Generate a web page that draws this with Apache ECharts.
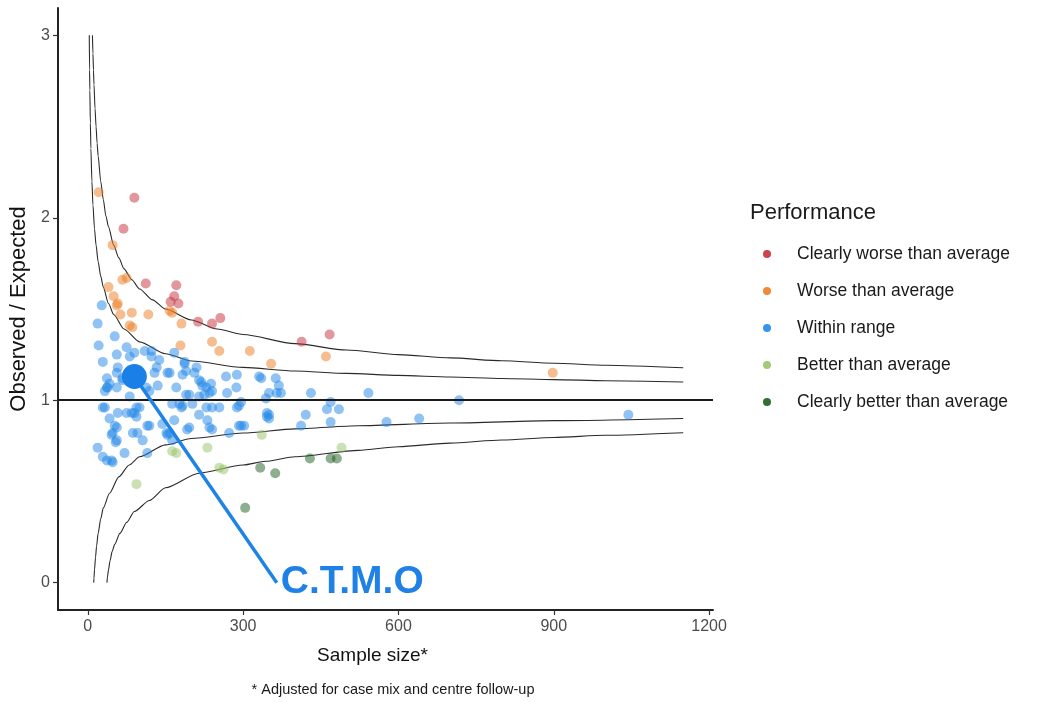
<!DOCTYPE html>
<html>
<head>
<meta charset="utf-8">
<script src="https://cdn.jsdelivr.net/npm/echarts@6/dist/echarts.min.js"></script>
<style>
    html, body { margin: 0; padding: 0; background: #fff; }
    #chart { width: 1046px; height: 702px; }
</style>
</head>
<body>
<div id="chart"></div>
<script>
// tick labels
const xTicks = [0, 300, 600, 900, 1200];
const yTicks = [0, 1, 2, 3];

// legend categories
const categories = ['Clearly worse than average', 'Worse than average', 'Within range', 'Better than average', 'Clearly better than average'];

// centres, [sample size, observed / expected]
const clearlyWorse = [
    [90, 2.11], [69, 1.94], [112, 1.64], [171, 1.63], [167, 1.57], [160, 1.54], [175, 1.53],
    [213, 1.43], [240, 1.42], [256, 1.45], [413, 1.32], [467, 1.36]
];
const worse = [
    [21, 2.14], [48, 1.85], [67, 1.66], [75, 1.67], [40, 1.62], [50, 1.57], [58, 1.53], [63, 1.47],
    [85, 1.48], [117, 1.47], [158, 1.49], [163, 1.48], [81, 1.41], [181, 1.42], [179, 1.30], [240, 1.32],
    [254, 1.27], [313, 1.27], [354, 1.20], [460, 1.24], [898, 1.15], [56, 1.52], [86, 1.40]
];
const withinRange = [
    [27, 1.52], [19, 1.42], [52, 1.35], [21, 1.30], [29, 1.21], [75, 1.29], [81, 1.24], [37, 1.07], [56, 1.15], [123, 1.27],
    [133, 1.18], [158, 1.15], [190, 1.16], [187, 1.21], [210, 1.18], [215, 1.11], [240, 1.05], [267, 1.13], [288, 1.14], [287, 1.07],
    [331, 1.13], [363, 1.12], [373, 1.04], [431, 1.04], [469, 0.99], [485, 0.95], [462, 0.95], [421, 0.92], [469, 0.88], [412, 0.86],
    [29, 0.96], [58, 0.93], [75, 0.93], [90, 0.93], [56, 0.85], [87, 0.82], [48, 0.82], [56, 0.78], [71, 0.71], [19, 0.74],
    [37, 0.67], [48, 0.66], [106, 0.78], [119, 0.86], [144, 0.87], [158, 0.82], [163, 0.78], [177, 0.98], [190, 1.03], [215, 1.02],
    [229, 0.96], [231, 0.89], [235, 0.85], [196, 0.85], [215, 0.92], [254, 0.96], [292, 0.86], [302, 0.86], [292, 0.97], [273, 0.82],
    [350, 0.92], [350, 1.04], [110, 1.27], [123, 1.24], [138, 1.22], [154, 1.15], [56, 1.25], [58, 1.18], [42, 1.09], [33, 1.05],
    [56, 1.07], [67, 1.12], [129, 1.15], [135, 1.08], [119, 1.05], [94, 0.96], [81, 1.02], [163, 0.98], [181, 0.96], [171, 1.07],
    [113, 1.07], [183, 1.14], [206, 1.15], [221, 1.08], [238, 1.09], [235, 1.04], [269, 1.04], [365, 1.04], [369, 1.08], [296, 0.99],
    [288, 0.96], [183, 0.97], [202, 0.98], [240, 0.96], [196, 1.03], [346, 0.93], [350, 0.90], [240, 0.84], [94, 0.91], [52, 0.86],
    [46, 0.81], [96, 0.82], [115, 0.86], [152, 0.82], [192, 0.84], [115, 0.71], [167, 0.89], [542, 1.04], [577, 0.88], [640, 0.90],
    [717, 1.00], [1044, 0.92], [90, 1.26], [167, 1.26], [187, 1.20], [219, 1.10], [225, 1.03], [229, 1.07], [335, 1.12], [344, 1.01],
    [346, 0.91], [296, 0.86], [154, 0.81], [54, 0.77], [29, 0.69], [46, 0.67], [42, 0.90], [33, 0.96], [85, 0.93], [100, 0.96],
    [38, 1.07], [67, 1.11], [37, 1.12]
];
const better = [
    [94, 0.54], [163, 0.72], [171, 0.71], [231, 0.74], [254, 0.63], [262, 0.62], [336, 0.81], [490, 0.74]
];
const clearlyBetter = [
    [333, 0.63], [362, 0.60], [429, 0.68], [469, 0.68], [481, 0.68], [304, 0.41]
];

// highlighted centre and where its label sits
const ctmoPoint = [90, 1.13];
const ctmoLabelAt = [365, 0];

// funnel limits
const upperOuter = [
    [9, 3.0], [10, 2.9], [11, 2.81], [12, 2.73], [14, 2.6], [16, 2.5], [18, 2.41], [20, 2.34], [25, 2.2], [30, 2.1],
    [35, 2.01], [40, 1.95], [50, 1.85], [60, 1.78], [70, 1.72], [85, 1.66], [100, 1.61], [125, 1.55], [150, 1.5],
    [200, 1.44], [250, 1.39], [300, 1.36], [400, 1.31], [500, 1.275], [600, 1.25], [700, 1.232], [800, 1.216],
    [900, 1.203], [1000, 1.192], [1150, 1.178]
];
const upperInner = [
    [2.9, 3.0], [3.5, 2.81], [4, 2.7], [5, 2.52], [6, 2.38], [8, 2.2], [10, 2.07], [13, 1.94], [16, 1.85], [20, 1.76],
    [25, 1.68], [30, 1.62], [40, 1.53], [50, 1.47], [70, 1.39], [100, 1.32], [150, 1.255], [200, 1.215], [300, 1.18],
    [400, 1.16], [500, 1.147], [600, 1.136], [700, 1.127], [800, 1.119], [900, 1.113], [1000, 1.107], [1150, 1.1]
];
const lowerInner = [
    [11.5, 0], [12, 0.025], [13, 0.07], [15, 0.14], [17, 0.2], [20, 0.27], [25, 0.35], [30, 0.41], [42, 0.49],
    [60, 0.58], [80, 0.645], [100, 0.69], [150, 0.755], [200, 0.79], [300, 0.82], [400, 0.843], [523, 0.86],
    [700, 0.875], [900, 0.888], [1150, 0.9]
];
const lowerOuter = [
    [37, 0], [38, 0.03], [40, 0.07], [43, 0.12], [47, 0.17], [52, 0.21], [62, 0.27], [75, 0.33], [90, 0.39],
    [119, 0.45], [150, 0.52], [215, 0.6], [300, 0.645], [344, 0.665], [400, 0.69], [523, 0.725], [600, 0.745],
    [700, 0.765], [800, 0.782], [900, 0.796], [1000, 0.808], [1150, 0.822]
];

const FONT = '"Liberation Sans", Arial, sans-serif';
const colours = ['#c62f3a', '#ee7d22', '#2188e8', '#98c46a', '#1b5e20'];

document.addEventListener('DOMContentLoaded', () => {
    const chart = echarts.init(document.getElementById('chart'));

    const pointSets = [clearlyWorse, worse, withinRange, better, clearlyBetter];
    const scatterSeries = pointSets.map((pts, i) => ({
        name: categories[i],
        type: 'scatter',
        data: pts,
        symbolSize: 10,
        itemStyle: { color: colours[i], opacity: 0.5 },
        z: 3
    }));

    const funnelSeries = [upperOuter, upperInner, lowerInner, lowerOuter].map(curve => ({
        type: 'line',
        data: curve,
        symbol: 'none',
        smooth: 0.25,
        smoothMonotone: 'x',
        silent: true,
        lineStyle: { color: '#2a2a2a', width: 1.1 },
        z: 2
    }));

    // reference line at O/E = 1
    funnelSeries[0].markLine = {
        silent: true,
        symbol: ['none', 'none'],
        label: { show: false },
        lineStyle: { color: '#1a1a1a', width: 2, type: 'solid' },
        data: [{ yAxis: 1 }]
    };

    const option = {
        animation: false,
        textStyle: { fontFamily: FONT },
        grid: { left: 58, right: 333, top: 8, bottom: 92 },
        title: {
            text: 'Performance',
            left: 745,
            top: 197,
            textStyle: { fontFamily: FONT, fontSize: 22, fontWeight: 'normal', color: '#1a1a1a' }
        },
        legend: {
            data: categories,
            orient: 'vertical',
            left: 758,
            top: 240,
            icon: 'circle',
            itemWidth: 50,
            itemHeight: 8,
            itemGap: 19,
            itemStyle: { opacity: 0.9 },
            textStyle: { fontFamily: FONT, fontSize: 17.5, color: '#1a1a1a', lineHeight: 18 }
        },
        xAxis: {
            type: 'value',
            min: -57.5,
            max: 1207.5,
            name: 'Sample size*',
            nameLocation: 'middle',
            nameGap: 36,
            nameTextStyle: { fontFamily: FONT, fontSize: 19, color: '#111', padding: [0, 26, 0, 0] },
            axisLine: { onZero: false, lineStyle: { color: '#222', width: 2 } },
            axisTick: { show: true, length: 5, customValues: xTicks, lineStyle: { color: '#333', width: 1.2 } },
            axisLabel: { customValues: xTicks, formatter: v => String(v), fontSize: 16, color: '#4d4d4d', margin: 9 },
            splitLine: { show: false }
        },
        yAxis: {
            type: 'value',
            min: -0.15,
            max: 3.15,
            name: 'Observed / Expected',
            nameLocation: 'middle',
            nameGap: 27,
            nameTextStyle: { fontFamily: FONT, fontSize: 22, color: '#111' },
            axisLine: { show: true, onZero: false, lineStyle: { color: '#222', width: 2 } },
            axisTick: { show: true, length: 5, customValues: yTicks, lineStyle: { color: '#333', width: 1.2 } },
            axisLabel: { customValues: yTicks, formatter: v => String(v), fontSize: 16, color: '#4d4d4d', margin: 8 },
            splitLine: { show: false }
        },
        graphic: [{
            type: 'text',
            style: {
                text: '* Adjusted for case mix and centre follow-up',
                x: 393,
                y: 690,
                align: 'center',
                verticalAlign: 'middle',
                fontFamily: FONT,
                fontSize: 14.5,
                fill: '#1a1a1a'
            }
        }],
        series: [
            ...funnelSeries,
            ...scatterSeries,
            {
                // pointer from the highlighted centre to its label
                type: 'line',
                data: [ctmoPoint, ctmoLabelAt],
                symbol: 'none',
                silent: true,
                lineStyle: { color: '#1f83e6', width: 3.5 },
                endLabel: {
                    show: true,
                    formatter: 'C.T.M.O',
                    distance: 4,
                    fontFamily: FONT,
                    fontSize: 39,
                    fontWeight: 'bold',
                    color: '#1f80e6'
                },
                z: 5
            },
            {
                type: 'scatter',
                data: [ctmoPoint],
                symbolSize: 25,
                itemStyle: { color: '#1a80e8', opacity: 1 },
                silent: true,
                z: 6
            }
        ]
    };

    chart.setOption(option);
});
</script>
</body>
</html>
